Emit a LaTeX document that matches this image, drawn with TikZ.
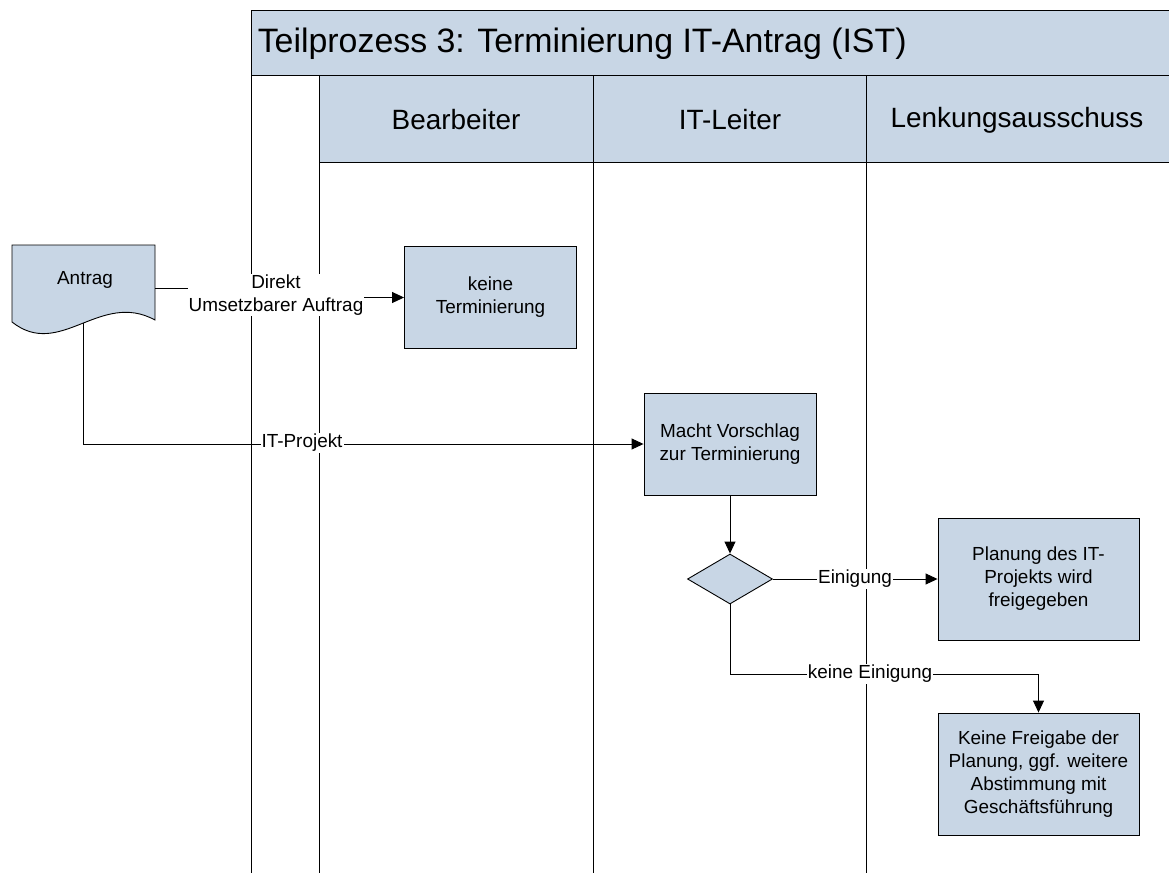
\documentclass[tikz,border=0pt]{standalone}
\usepackage{fontspec}
\setmainfont{Liberation Sans}
\usetikzlibrary{arrows.meta,shapes.geometric}

\definecolor{lanefill}{RGB}{200,214,229}

\begin{document}
\begin{tikzpicture}[x=1bp,y=-1bp,line width=0.9bp,
  font=\fontsize{19}{23}\selectfont,
  task/.style={draw,fill=lanefill,align=center,inner sep=2bp,
    minimum width=172bp,minimum height=102bp},
  bigtask/.style={task,minimum width=201bp,minimum height=122bp},
  decision/.style={draw,fill=lanefill,diamond,inner sep=0pt,
    minimum width=85bp,minimum height=50bp},
  flow/.style={-{Triangle[length=12bp,width=11bp]}},
  lbl/.style={fill=white,inner sep=1bp,align=center},
  lanehead/.style={font=\fontsize{28}{34}\selectfont}]

\useasboundingbox (0,0) rectangle (1169,873);
\clip (0,0) rectangle (1169,873);

% pool and lanes
\draw[fill=lanefill] (251,10) rectangle (1180,75);
\node[anchor=west,font=\fontsize{34}{40}\selectfont] (pooltitle) at (254,44)
  {Teilprozess 3: Terminierung IT-Antrag (IST)};
\draw[fill=lanefill] (319,75) rectangle (1180,162);
\foreach \x in {251,319,593,866} {
  \draw (\x,75) -- (\x,873);
}
\node[lanehead] (bearbeiter) at (456,120) {Bearbeiter};
\node[lanehead] (itleiter) at (730,120) {IT-Leiter};
\node[lanehead] (lenkung) at (1017,120) {Lenkungsausschuss};

% Antrag document
\draw[fill=lanefill] (12,245) -- (155,245) -- (155,320)
  .. controls (100,290) and (60,360) .. (12,322) -- cycle;
\node (antrag) at (85,280) {Antrag};
\coordinate (antragout) at (155,288);
\coordinate (antragfoot) at (83,323);

% steps
\node[task] (keine) at (490.5,297.5) {keine\\Terminierung};
\node[task] (macht) at (730,444) {Macht Vorschlag\\zur Terminierung};
\node[decision] (entscheid) at (730,579) {};
\node[bigtask] (planung) at (1038.5,579) {Planung des IT-\\Projekts wird\\freigegeben};
\node[bigtask] (freigabe) at (1038.5,774)
  {Keine Freigabe der\\Planung, ggf. weitere\\Abstimmung mit\\Geschäftsführung};

% connectors
\draw[flow] (antragout) -- (276,288) |- (keine.west);
\draw[flow] (antragfoot) |- (macht.west);
\draw[flow] (macht.south) -- (entscheid.north);
\draw[flow] (entscheid.east) -- (planung.west);
\draw[flow] (entscheid.south) -- ++(0,70) -| (freigabe.north);

\node[lbl] (direkt) at (276,295) {Direkt\\Umsetzbarer Auftrag};
\node[lbl] (itprojekt) at (302,443) {IT-Projekt};
\node[lbl] (einigung) at (855,579) {Einigung};
\node[lbl] (keineeinigung) at (870,674) {keine Einigung};

\end{tikzpicture}
\end{document}
